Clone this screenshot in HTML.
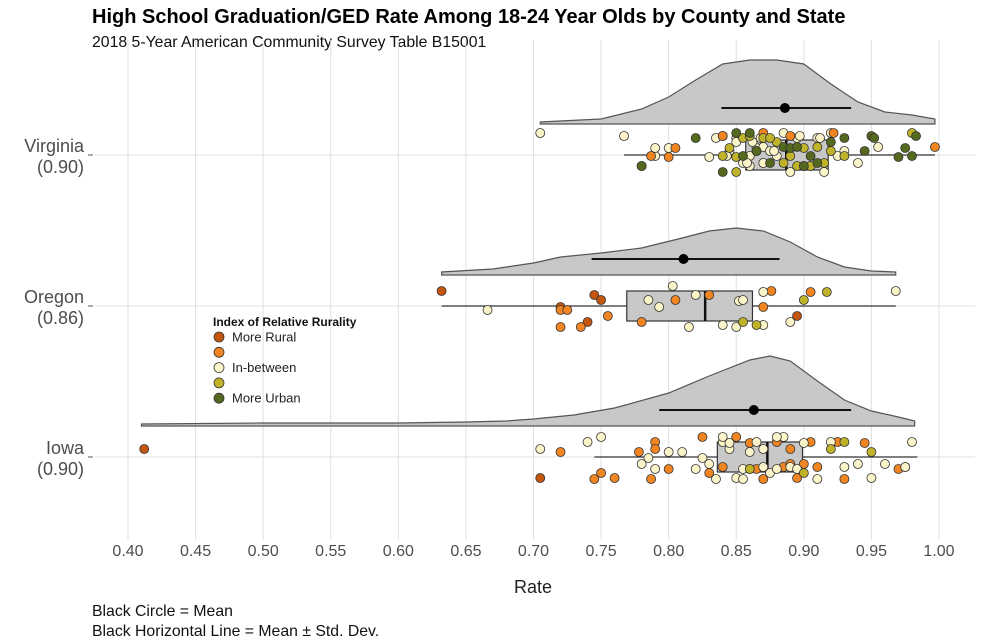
<!DOCTYPE html>
<html><head><meta charset="utf-8"><style>
body{margin:0;background:#fff;font-family:"Liberation Sans",sans-serif}
svg{display:block}
</style></head><body>
<svg id="chart" width="990" height="644">
<text x="92" y="23" font-size="20" font-weight="bold" fill="#000">High School Graduation/GED Rate Among 18-24 Year Olds by County and State</text>
<text x="92" y="47" font-size="15.8" fill="#111">2018 5-Year American Community Survey Table B15001</text>
<text x="92" y="616" font-size="15.8" fill="#111">Black Circle = Mean</text>
<text x="92" y="636" font-size="15.8" fill="#111">Black Horizontal Line = Mean ± Std. Dev.</text>
<text x="533" y="593" font-size="18" text-anchor="middle" fill="#222">Rate</text>
<g id="grid"></g><g id="marks"></g><g id="legend"></g>
</svg>
<script>
const xTicks=[0.40,0.45,0.50,0.55,0.60,0.65,0.70,0.75,0.80,0.85,0.90,0.95,1.00];
const states=["Virginia","Oregon","Iowa"];
const stateMeans=[0.90,0.86,0.90];
const meanVals=[0.886,0.811,0.863];
const sdLow=[0.839,0.743,0.793];
const sdHigh=[0.935,0.882,0.935];
const boxQ1=[0.857,0.769,0.836];
const boxMed=[0.887,0.827,0.873];
const boxQ3=[0.918,0.862,0.899];
const whiskLo=[0.767,0.632,0.745];
const whiskHi=[0.997,0.968,0.984];
const densVirginiaX=[0.705,0.75,0.78,0.80,0.82,0.84,0.86,0.88,0.90,0.92,0.94,0.96,0.98,0.997];
const densVirginiaY=[2,5,15,27,44,60,64,64,60,40,22,12,9,5];
const densOregonX=[0.632,0.67,0.70,0.72,0.75,0.78,0.81,0.83,0.85,0.87,0.89,0.91,0.93,0.95,0.968];
const densOregonY=[3,6,12,18,22,27,37,44,47,44,33,18,8,4,3];
const densIowaX=[0.41,0.5,0.6,0.65,0.68,0.70,0.73,0.76,0.80,0.83,0.86,0.875,0.89,0.91,0.93,0.95,0.97,0.982];
const densIowaY=[2,3,3,4,5,7,11,18,33,50,66,70,65,45,26,15,9,5];
const virginiaVals=[0.705,0.767,0.79,0.80,0.83,0.835,0.84,0.845,0.85,0.85,0.855,0.86,0.86,0.865,0.87,0.87,0.875,0.88,0.885,0.89,0.895,0.90,0.905,0.91,0.915,0.92,0.925,0.93,0.94,0.955,0.79,0.78,0.843,0.858,0.862,0.868,0.878,0.897,0.912,
0.80,0.805,0.787,0.89,0.922,0.997,0.87,0.84,
0.84,0.845,0.85,0.855,0.86,0.865,0.87,0.88,0.885,0.89,0.895,0.90,0.91,0.915,0.92,0.93,0.98,0.85,0.875,0.905,
0.78,0.82,0.84,0.85,0.855,0.865,0.875,0.885,0.89,0.90,0.905,0.91,0.92,0.93,0.945,0.95,0.952,0.97,0.975,0.98,0.983,0.86,0.895];
const virginiaCats=[].concat(Array(39).fill(2),Array(8).fill(1),Array(20).fill(3),Array(23).fill(4));
const oregonVals=[0.632,0.72,0.745,0.75,0.74,0.895,0.72,0.72,0.725,0.735,0.755,0.78,0.805,0.83,0.87,0.876,0.905,0.666,0.785,0.793,0.803,0.815,0.82,0.84,0.85,0.852,0.87,0.855,0.87,0.89,0.968,0.855,0.865,0.90,0.917];
const oregonCats=[].concat(Array(6).fill(0),Array(11).fill(1),Array(14).fill(2),Array(4).fill(3));
const iowaVals=[0.412,0.705,0.745,0.72,0.79,0.79,0.75,0.80,0.825,0.84,0.86,0.86,0.87,0.88,0.885,0.89,0.895,0.90,0.91,0.925,0.93,0.945,0.97,0.975,0.85,0.865,0.83,0.89,0.905,0.778,0.787,0.76,
0.705,0.75,0.74,0.78,0.785,0.79,0.80,0.81,0.82,0.825,0.83,0.84,0.84,0.845,0.85,0.855,0.86,0.865,0.87,0.875,0.88,0.885,0.89,0.895,0.90,0.91,0.92,0.93,0.94,0.95,0.96,0.975,0.98,0.835,0.845,0.855,0.87,0.88,
0.86,0.90,0.92,0.93,0.95];
const iowaCats=[].concat(Array(2).fill(0),Array(30).fill(1),Array(38).fill(2),Array(5).fill(3));
const catColors=["#c4550c","#f08522","#fbf4c8","#bfb32a","#55691e"];
const catLabels=["More Rural","","In-between","","More Urban"];

const NS="http://www.w3.org/2000/svg";
const X0=128,X1=939;
function xs(v){return X0+(v-0.40)/(1.00-0.40)*(X1-X0);}
const rowY=[155,306,457];
function mk(t,a,p){const e=document.createElementNS(NS,t);for(const k in a)e.setAttribute(k,a[k]);p.appendChild(e);return e;}
function jitter(k,i){const h=(k*k*31+k*17+i*7+k*i*13)%45;return h-22;}
const grid=document.getElementById('grid'),marks=document.getElementById('marks'),leg=document.getElementById('legend');
xTicks.forEach(t=>{
  const l=mk('line',{x1:xs(t),x2:xs(t),y1:40,y2:540,stroke:'#e0e0e0','stroke-width':1},grid);
  
  
  const tx=mk('text',{x:xs(t),y:556,'font-size':16,'text-anchor':'middle',fill:'#4d4d4d'},grid);
  tx.textContent=t.toFixed(2);
  
  
});
states.forEach((s,i)=>{
  const y=rowY[i];
  const l=mk('line',{x1:95,x2:975,y1:y,y2:y,stroke:'#e0e0e0'},grid);
  
  
  mk('line',{x1:88,x2:93,y1:y,y2:y,stroke:'#555'},grid);
  const t1=mk('text',{x:84,y:y-3,'font-size':18,'text-anchor':'end',fill:'#4d4d4d'},grid);t1.textContent=s;
  
  
  const t2=mk('text',{x:84,y:y+18,'font-size':18,'text-anchor':'end',fill:'#4d4d4d'},grid);t2.textContent='('+stateMeans[i].toFixed(2)+')';
  
  
});
const dens=[[densVirginiaX,densVirginiaY],[densOregonX,densOregonY],[densIowaX,densIowaY]];
const vals=[virginiaVals,oregonVals,iowaVals],cats=[virginiaCats,oregonCats,iowaCats];
states.forEach((s,i)=>{
  const base=rowY[i]-31;const [dx,dy]=dens[i];
  let d='M'+xs(dx[0])+','+base;
  dx.forEach((v,j)=>{d+=' L'+xs(v).toFixed(1)+','+(base-dy[j])});
  d+=' L'+xs(dx[dx.length-1])+','+base+' Z';
  const p=mk('path',{d:d,fill:'#c8c8c8',stroke:'#555','stroke-width':1.2},marks);
  
  
  const y=rowY[i];
  mk('line',{x1:xs(whiskLo[i]),x2:xs(whiskHi[i]),y1:y,y2:y,stroke:'#333','stroke-width':1.2},marks);
  const b=mk('rect',{x:xs(boxQ1[i]),y:y-15,width:xs(boxQ3[i])-xs(boxQ1[i]),height:30,fill:'#c8c8c8',stroke:'#333','stroke-width':1.2},marks);
  
  
  mk('line',{x1:xs(boxMed[i]),x2:xs(boxMed[i]),y1:y-15,y2:y+15,stroke:'#111','stroke-width':2.5},marks);
  const my=y-47;
  const sl=mk('line',{x1:xs(sdLow[i]),x2:xs(sdHigh[i]),y1:my,y2:my,stroke:'#111','stroke-width':2},marks);
  
  
  const mc=mk('circle',{cx:xs(meanVals[i]),cy:my,r:5,fill:'#000'},marks);
  
  
  vals[i].forEach((v,k)=>{
    const c=mk('circle',{cx:xs(v),cy:y+jitter(k,i),r:4.5,fill:catColors[cats[i][k]],stroke:'#333','stroke-width':0.8},marks);
    
    
  });
});
const lt=mk('text',{x:213,y:326,'font-size':12,'font-weight':'bold',fill:'#111'},leg);lt.textContent='Index of Relative Rurality';


catColors.forEach((c,i)=>{
  const y=337+i*15.3;
  const dot=mk('circle',{cx:219,cy:y,r:5,fill:c,stroke:'#333','stroke-width':0.8},leg);
  
  
  if(catLabels[i]){const t=mk('text',{x:232,y:y+4.5,'font-size':13,fill:'#222'},leg);t.textContent=catLabels[i];
  
  }
});
</script>
</body></html>
